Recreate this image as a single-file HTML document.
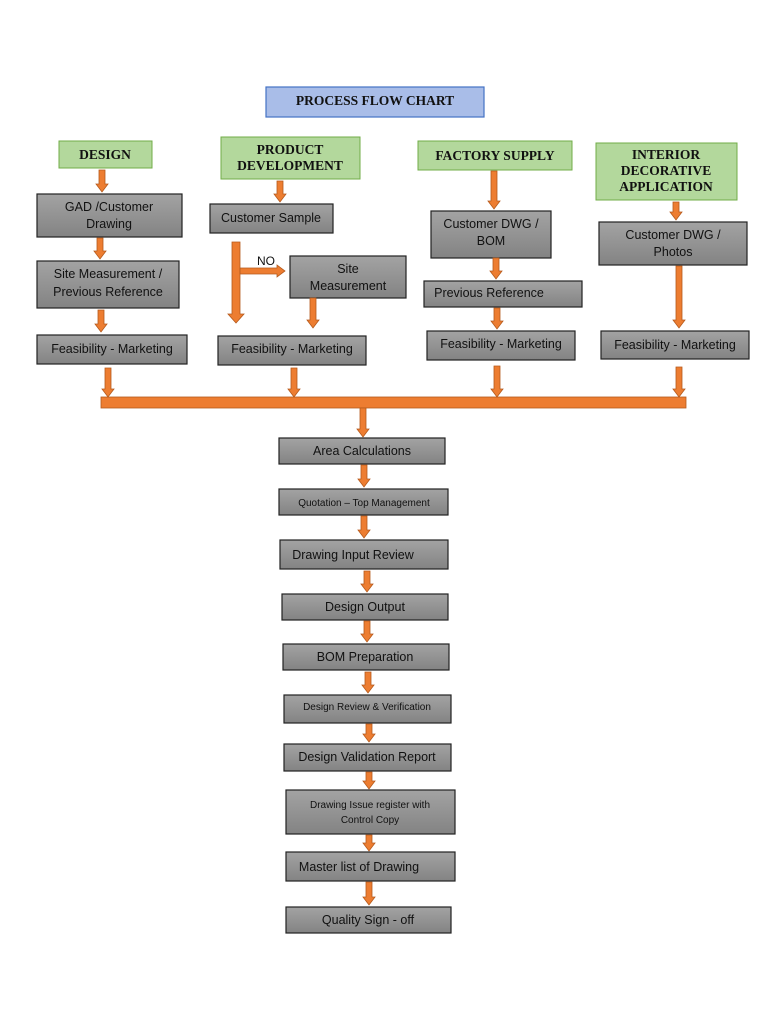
<!DOCTYPE html>
<html><head><meta charset="utf-8"><style>
html,body{margin:0;padding:0;background:#fff;}
svg{display:block;}
.t{font-family:"Liberation Sans",sans-serif;font-size:12.5px;fill:#111;text-anchor:middle;}
.s{font-size:10px;}
.h{font-family:"Liberation Serif",serif;font-weight:bold;font-size:13.5px;fill:#111;text-anchor:middle;}
.g{fill:url(#gr);stroke:#222;stroke-width:1.2;}
.gh{fill:#b3d89c;stroke:#70ad47;stroke-width:1;}
.a{fill:#ed7d31;stroke:#b55a1c;stroke-width:0.8;}
</style></head><body>
<svg width="768" height="1024" viewBox="0 0 768 1024" xmlns="http://www.w3.org/2000/svg">
<defs><linearGradient id="gr" x1="0" y1="0" x2="0" y2="1"><stop offset="0" stop-color="#a3a3a3"/><stop offset="1" stop-color="#838383"/></linearGradient></defs>
<rect x="266" y="87" width="218" height="30" fill="#a9bde8" stroke="#4472c4" stroke-width="1.2"/>
<text class="h" x="375" y="105">PROCESS FLOW CHART</text>

<rect class="gh" x="59" y="141" width="93" height="27"/><text class="h" x="105" y="159">DESIGN</text>
<rect class="gh" x="221" y="137" width="139" height="42"/><text class="h" x="290" y="154">PRODUCT</text><text class="h" x="290" y="170">DEVELOPMENT</text>
<rect class="gh" x="418" y="141" width="154" height="29"/><text class="h" x="495" y="160">FACTORY SUPPLY</text>
<rect class="gh" x="596" y="143" width="141" height="57"/><text class="h" x="666" y="159">INTERIOR</text><text class="h" x="666" y="175">DECORATIVE</text><text class="h" x="666" y="191">APPLICATION</text>

<rect class="g" x="37" y="194" width="145" height="43"/><text class="t" x="109" y="211">GAD /Customer</text><text class="t" x="109" y="228">Drawing</text>
<rect class="g" x="37" y="261" width="142" height="47"/><text class="t" x="108" y="278">Site Measurement /</text><text class="t" x="108" y="296">Previous Reference</text>
<rect class="g" x="37" y="335" width="150" height="29"/><text class="t" x="112" y="353">Feasibility - Marketing</text>

<rect class="g" x="210" y="204" width="123" height="29"/><text class="t" x="271" y="222">Customer Sample</text>
<rect class="g" x="290" y="256" width="116" height="42"/><text class="t" x="348" y="273">Site</text><text class="t" x="348" y="290">Measurement</text>
<rect class="g" x="218" y="336" width="148" height="29"/><text class="t" x="292" y="353">Feasibility - Marketing</text>
<text class="t" x="266" y="265" style="font-size:12px">NO</text>

<rect class="g" x="431" y="211" width="120" height="47"/><text class="t" x="491" y="228">Customer DWG /</text><text class="t" x="491" y="245">BOM</text>
<rect class="g" x="424" y="281" width="158" height="26"/><text class="t" x="489" y="297">Previous Reference</text>
<rect class="g" x="427" y="331" width="148" height="29"/><text class="t" x="501" y="348">Feasibility - Marketing</text>

<rect class="g" x="599" y="222" width="148" height="43"/><text class="t" x="673" y="239">Customer DWG /</text><text class="t" x="673" y="256">Photos</text>
<rect class="g" x="601" y="331" width="148" height="28"/><text class="t" x="675" y="349">Feasibility - Marketing</text>

<rect class="a" x="101" y="397" width="585" height="11"/>

<rect class="g" x="279" y="438" width="166" height="26"/><text class="t" x="362" y="455">Area Calculations</text>
<rect class="g" x="279" y="489" width="169" height="26"/><text class="t s" x="364" y="506">Quotation – Top Management</text>
<rect class="g" x="280" y="540" width="168" height="29"/><text class="t" x="353" y="559">Drawing Input Review</text>
<rect class="g" x="282" y="594" width="166" height="26"/><text class="t" x="365" y="611">Design Output</text>
<rect class="g" x="283" y="644" width="166" height="26"/><text class="t" x="365" y="661">BOM Preparation</text>
<rect class="g" x="284" y="695" width="167" height="28"/><text class="t s" x="367" y="710">Design Review &amp; Verification</text>
<rect class="g" x="284" y="744" width="167" height="27"/><text class="t" x="367" y="761">Design Validation Report</text>
<rect class="g" x="286" y="790" width="169" height="44"/><text class="t s" x="370" y="808">Drawing Issue register with</text><text class="t s" x="370" y="823">Control Copy</text>
<rect class="g" x="286" y="852" width="169" height="29"/><text class="t" x="359" y="871">Master list of Drawing</text>
<rect class="g" x="286" y="907" width="165" height="26"/><text class="t" x="368" y="924">Quality Sign - off</text>

<g class="a">
<polygon points="99,170 105,170 105,184 108,184 102,192 96,184 99,184"/>
<polygon points="97,238 103,238 103,251 106,251 100,259 94,251 97,251"/>
<polygon points="98,310 104,310 104,324 107,324 101,332 95,324 98,324"/>
<polygon points="105,368 111,368 111,389 114,389 108,397 102,389 105,389"/>
<polygon points="277,181 283,181 283,194 286,194 280,202 274,194 277,194"/>
<polygon points="232,242 240,242 240,314 244,314 236,323 228,314 232,314"/>
<polygon points="240,268 277,268 277,265 285,271 277,277 277,274 240,274"/>
<polygon points="310,298 316,298 316,320 319,320 313,328 307,320 310,320"/>
<polygon points="291,368 297,368 297,389 300,389 294,397 288,389 291,389"/>
<polygon points="491,171 497,171 497,201 500,201 494,209 488,201 491,201"/>
<polygon points="493,258 499,258 499,271 502,271 496,279 490,271 493,271"/>
<polygon points="494,308 500,308 500,321 503,321 497,329 491,321 494,321"/>
<polygon points="494,366 500,366 500,389 503,389 497,397 491,389 494,389"/>
<polygon points="673,202 679,202 679,212 682,212 676,220 670,212 673,212"/>
<polygon points="676,266 682,266 682,320 685,320 679,328 673,320 676,320"/>
<polygon points="676,367 682,367 682,389 685,389 679,397 673,389 676,389"/>
<polygon points="360,408 366,408 366,429 369,429 363,437 357,429 360,429"/>
<polygon points="361,465 367,465 367,479 370,479 364,487 358,479 361,479"/>
<polygon points="361,516 367,516 367,530 370,530 364,538 358,530 361,530"/>
<polygon points="364,571 370,571 370,584 373,584 367,592 361,584 364,584"/>
<polygon points="364,621 370,621 370,634 373,634 367,642 361,634 364,634"/>
<polygon points="365,672 371,672 371,685 374,685 368,693 362,685 365,685"/>
<polygon points="366,724 372,724 372,734 375,734 369,742 363,734 366,734"/>
<polygon points="366,772 372,772 372,781 375,781 369,789 363,781 366,781"/>
<polygon points="366,835 372,835 372,843 375,843 369,851 363,843 366,843"/>
<polygon points="366,882 372,882 372,897 375,897 369,905 363,897 366,897"/>
</g>
</svg>
</body></html>
